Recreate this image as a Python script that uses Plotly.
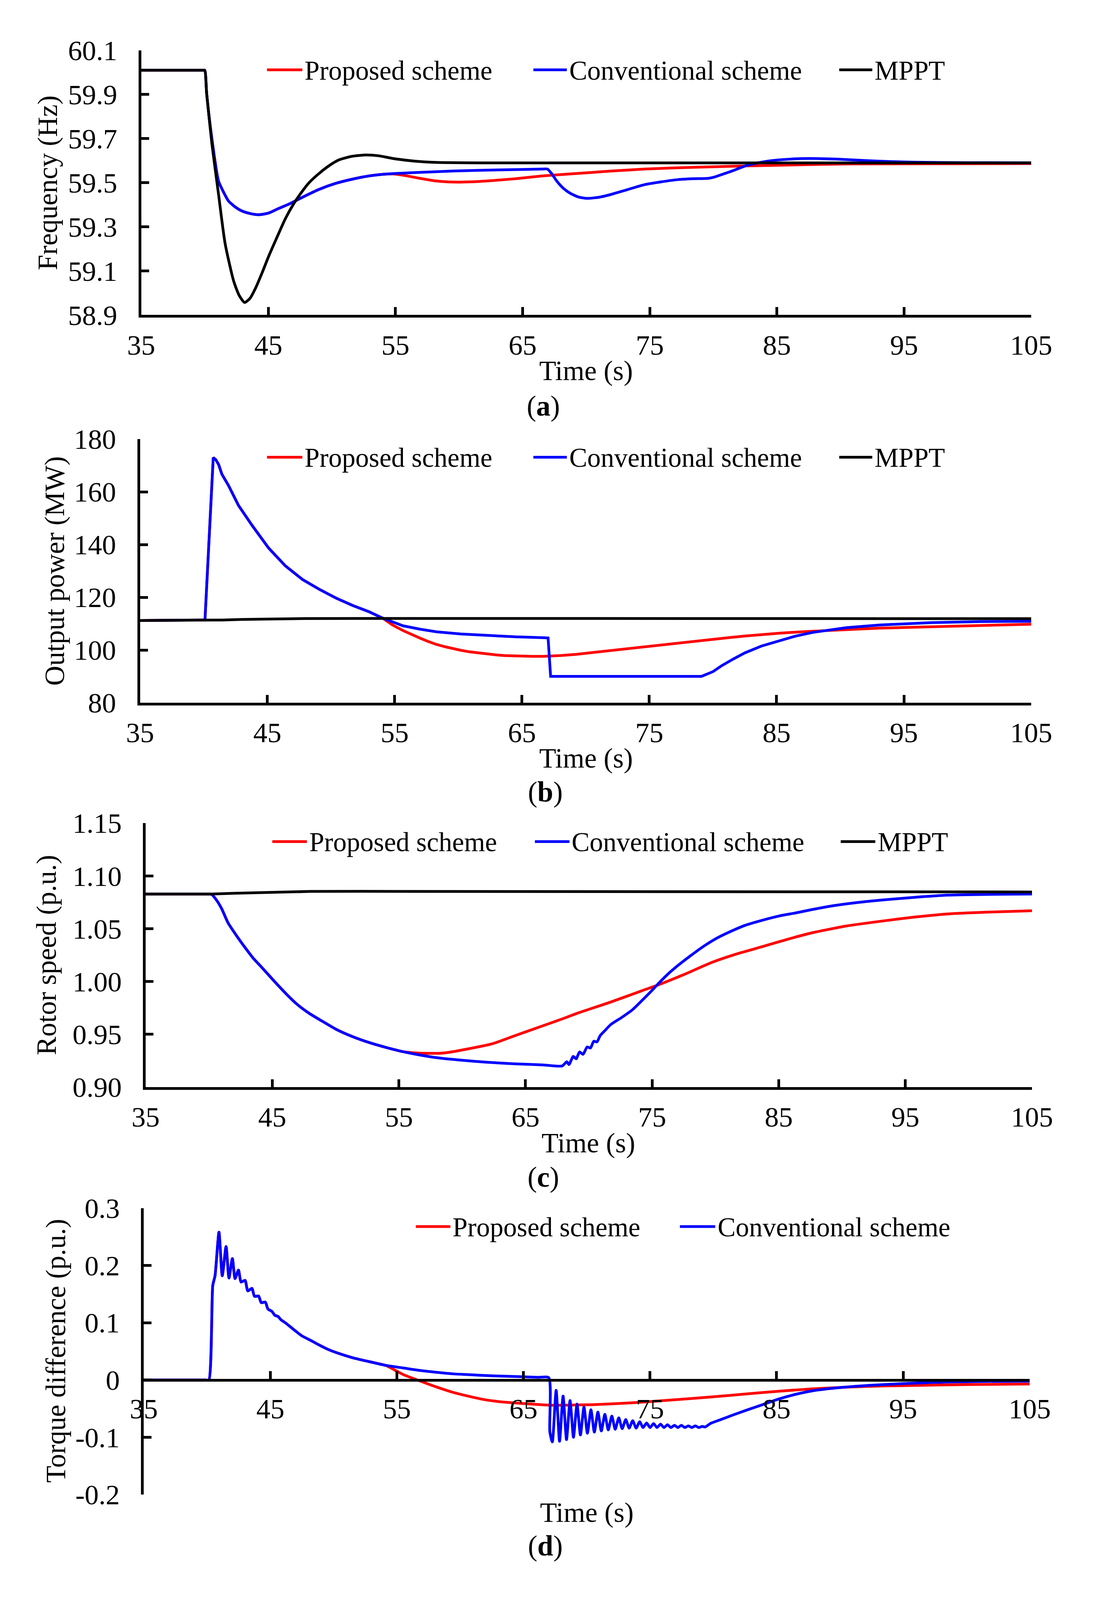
import plotly.graph_objects as go

# nominal canvas of the reference, used to turn pixel positions into paper fractions
W, H = 2807, 4582
FONT = "Liberation Serif"
RED, BLUE, BLACK = "#FF0000", "#0000FF", "#000000"

# ---------------- (a) frequency (Hz) ----------------
a_t_common = [35, 39.85, 40.0, 40.15, 40.56, 41.08, 41.5, 41.87, 42.4, 42.92, 43.6,
              44.24, 45.0, 45.8, 46.7, 47.68, 49.0, 50.3, 51.6, 52.95, 54.0]
a_f_common = [60.01, 60.01, 60.01, 59.905, 59.70, 59.508, 59.455, 59.417, 59.39, 59.372, 59.36,
              59.355, 59.362, 59.383, 59.405, 59.434, 59.47, 59.497, 59.516, 59.531, 59.538]
a_t_conv_tail = [55.06, 57.3, 59.55, 63.0, 66.6, 66.95, 67.3, 67.68, 68.2, 68.75,
                 69.4, 70.07, 71.0, 71.9, 73.2, 74.57, 75.9, 77.2, 78.4, 79.6,
                 80.1, 80.66, 81.6, 82.5, 83.5, 84.4, 86.0, 87.6, 89.7, 91.8,
                 93.8, 95.8, 100.0, 105.0]
a_f_conv_tail = [59.542, 59.548, 59.553, 59.558, 59.562, 59.562, 59.54, 59.508, 59.475, 59.452,
                 59.435, 59.429, 59.434, 59.446, 59.468, 59.491, 59.504, 59.514, 59.518, 59.52,
                 59.526, 59.537, 59.556, 59.576, 59.59, 59.599, 59.607, 59.61, 59.607, 59.601,
                 59.596, 59.593, 59.591, 59.59]
a_t_prop_tail = [54.8, 56.0, 56.9, 58.2, 59.55, 60.9, 62.2, 64.4, 66.6, 69.3,
                 72.0, 74.57, 78.5, 82.5, 86.5, 90.5, 97.0, 105.0]
a_f_prop_tail = [59.54, 59.53, 59.52, 59.508, 59.503, 59.504, 59.508, 59.518, 59.531, 59.542,
                 59.553, 59.562, 59.57, 59.576, 59.581, 59.585, 59.586, 59.587]
a_t_mppt = [35, 39.85, 40.0, 40.15, 40.56, 41.08, 41.6, 42.27, 42.7, 43.13, 43.55,
            43.98, 44.5, 45.04, 45.7, 46.35, 47.0, 47.54, 48.2, 48.99, 49.8,
            50.57, 51.6, 52.69, 53.7, 54.8, 56.5, 58.23, 62.0, 70.0, 80.0,
            90.0, 105.0]
a_f_mppt = [60.01, 60.01, 60.01, 59.905, 59.678, 59.45, 59.225, 59.055, 58.99, 58.957, 58.975,
            59.02, 59.09, 59.168, 59.255, 59.338, 59.405, 59.451, 59.5, 59.542, 59.578,
            59.604, 59.62, 59.626, 59.622, 59.61, 59.598, 59.592, 59.59, 59.59, 59.59,
            59.59, 59.59]

# ---------------- (b) output power (MW) ----------------
b_t_common = [35, 40.0, 40.1, 40.75, 40.95, 41.17, 41.43, 41.95, 42.74, 43.8,
              45.1, 46.4, 47.75, 49.06, 50.4, 51.7, 53.0, 54.06]
b_p_common = [111.2, 111.2, 111.4, 173.0, 172.2, 170.4, 166.7, 162.4, 154.8, 147.3,
              138.7, 132.0, 126.8, 123.1, 119.7, 116.9, 114.5, 112.1]
b_t_conv_tail = [55.65, 57.0, 58.3, 60.2, 62.2, 64.5, 66.66, 67.05, 67.25, 70.0,
                 75.0, 79.1, 80.0, 80.7, 81.6, 82.5, 83.8, 85.2, 86.5, 87.85,
                 89.2, 90.5, 93.1, 97.1, 101.0, 105.0]
b_p_conv_tail = [109.2, 107.9, 106.9, 106.1, 105.5, 105.0, 104.7, 104.6, 90.0, 90.0,
                 90.0, 90.0, 91.8, 94.1, 96.6, 98.9, 101.5, 103.6, 105.3, 106.7,
                 107.7, 108.5, 109.5, 110.4, 110.8, 110.9]
b_t_prop_tail = [54.8, 55.65, 56.3, 57.0, 57.6, 58.3, 59.0, 59.6, 60.2, 60.9,
                 61.5, 62.2, 62.9, 63.6, 64.3, 65.0, 65.8, 66.66, 67.3, 68.0,
                 69.3, 70.6, 71.9, 73.2, 74.6, 75.9, 77.3, 78.6, 79.9, 81.2,
                 82.5, 83.8, 85.2, 87.2, 89.2, 91.1, 93.1, 95.7, 98.4, 101.7, 105.0]
b_p_prop_tail = [109.6, 107.4, 105.9, 104.5, 103.3, 102.1, 101.2, 100.5, 99.9, 99.3,
                 98.9, 98.5, 98.2, 97.9, 97.75, 97.65, 97.6, 97.6, 97.7, 97.9,
                 98.4, 99.1, 99.8, 100.5, 101.2, 102.0, 102.8, 103.4, 104.0, 104.7,
                 105.3, 105.9, 106.4, 107.0, 107.5, 107.9, 108.3, 108.65, 109.0, 109.4, 109.8]
b_t_mppt = [35, 40.0, 41.5, 43.0, 45.0, 48.0, 52.0, 60.0, 70.0, 80.0, 90.0, 105.0]
b_p_mppt = [111.2, 111.2, 111.4, 111.6, 111.8, 111.95, 112.0, 112.0, 112.0, 112.0, 112.0, 111.9]

# ---------------- (c) rotor speed (p.u.) ----------------
c_t_common = [35, 39.9, 40.2, 40.6, 41.0, 41.5, 42.2, 42.86, 43.5, 44.2, 45.1,
              46.0, 46.9, 47.9, 49.0, 50.0, 51.3, 52.7, 54.0, 55.3]
c_w_common = [1.0828, 1.0828, 1.0826, 1.077, 1.069, 1.0557, 1.043, 1.032, 1.022, 1.013, 1.001,
              0.9895, 0.979, 0.970, 0.962, 0.955, 0.948, 0.942, 0.9375, 0.9336]
c_t_conv_tail = [56.6, 58.0, 59.9, 61.9, 64.2, 66.4, 67.9, 68.26, 68.43, 68.77,
                 69.0, 69.27, 69.54, 69.87, 70.13, 70.39, 70.64, 70.9, 71.23, 71.75,
                 72.6, 73.45, 74.2, 75.0, 75.45, 76.2, 77.05, 78.1, 79.2, 80.1,
                 81.0, 82.3, 83.7, 85.0, 86.35, 87.7, 89.0, 91.0, 93.0, 95.7,
                 98.35, 101.5, 105.0]
c_w_conv_tail = [0.9305, 0.9278, 0.9255, 0.9236, 0.922, 0.921, 0.920, 0.924, 0.9213, 0.929,
                 0.9268, 0.9333, 0.931, 0.938, 0.937, 0.9434, 0.9428, 0.9488, 0.953, 0.9594,
                 0.966, 0.9733, 0.982, 0.9917, 0.9975, 1.0065, 1.0153, 1.025, 1.0344, 1.041,
                 1.0463, 1.053, 1.058, 1.062, 1.065, 1.0683, 1.0712, 1.0745, 1.077, 1.0797,
                 1.0818, 1.0825, 1.0828]
c_t_prop_tail = [56.6, 58.2, 59.0, 60.6, 62.4, 64.0, 66.0, 68.0, 69.2, 71.72,
                 74.3, 75.45, 77.5, 79.7, 81.7, 83.7, 85.7, 87.7, 90.3, 93.0,
                 95.7, 98.35, 101.5, 105.0]
c_w_prop_tail = [0.9322, 0.932, 0.933, 0.9365, 0.9411, 0.948, 0.9565, 0.965, 0.9704, 0.9805,
                 0.9917, 0.9966, 1.0065, 1.018, 1.0262, 1.033, 1.040, 1.0463, 1.0525, 1.057,
                 1.061, 1.064, 1.0657, 1.067]
c_t_mppt = [35, 40.2, 42.0, 44.0, 46.0, 48.0, 52.0, 60.0, 80.0, 105.0]
c_w_mppt = [1.0828, 1.0828, 1.0836, 1.0843, 1.0849, 1.0853, 1.0854, 1.0854, 1.0852, 1.0848]

# ---------------- (d) torque difference (p.u.) ----------------
d_t_common = [35, 39.9, 40.14, 40.45, 40.63, 40.94, 41.2, 41.5, 41.73, 42.0, 42.21,
              42.48, 42.69, 43.0, 43.22, 43.54, 43.75, 44.07, 44.28, 44.6, 44.81,
              45.13, 45.35, 45.6, 45.85, 46.2, 46.85, 47.5, 48.2, 48.84, 49.5,
              50.2, 51.5, 52.8, 54.1]
d_q_common = [0, 0, 0, 0.165, 0.182, 0.258, 0.182, 0.233, 0.178, 0.212, 0.177,
              0.192, 0.171, 0.174, 0.1555, 0.160, 0.146, 0.1466, 0.135, 0.136, 0.124,
              0.1197, 0.113, 0.111, 0.105, 0.0996, 0.088, 0.077, 0.069, 0.0613, 0.054,
              0.0479, 0.0389, 0.0321, 0.0256]
d_t_conv_tail = [55.5, 56.8, 58.1, 59.45, 60.8, 62.1, 63.7, 65.3, 66.2, 67.0,
                 67.08, 67.28, 67.58, 67.85, 68.13, 68.4, 68.68, 68.95, 69.23, 69.5,
                 69.78, 70.05, 70.33, 70.6, 70.88, 71.15, 71.43, 71.7, 71.98, 72.25,
                 72.53, 72.8, 73.08, 73.35, 73.63, 73.9, 74.18, 74.45, 74.73, 75.0,
                 75.28, 75.55, 75.83, 76.1, 76.38, 76.65, 76.93, 77.2, 77.48, 77.75,
                 78.03, 78.3, 78.58, 78.85, 79.13, 79.35, 79.8, 80.6, 81.5, 82.7,
                 83.9, 85.2, 86.5, 87.8, 89.2, 91.2, 93.2, 95.8, 98.5, 101.5, 105.0]
d_q_conv_tail = [0.021, 0.0167, 0.0135, 0.0107, 0.0092, 0.0077, 0.0065, 0.0054, 0.0047, 0.004,
                 -0.09, -0.108, -0.018, -0.107, -0.028, -0.104, -0.036, -0.100, -0.042, -0.096,
                 -0.047, -0.093, -0.052, -0.091, -0.056, -0.089, -0.060, -0.087, -0.063, -0.086,
                 -0.066, -0.085, -0.069, -0.084, -0.071, -0.084, -0.073, -0.083, -0.075, -0.083,
                 -0.076, -0.083, -0.077, -0.083, -0.078, -0.083, -0.079, -0.083, -0.079, -0.083,
                 -0.080, -0.083, -0.080, -0.083, -0.081, -0.082, -0.0756, -0.069, -0.0615, -0.052,
                 -0.043, -0.033, -0.025, -0.019, -0.015, -0.011, -0.0083, -0.0055, -0.0036, -0.0025, -0.002]
d_t_prop_tail = [55.5, 56.8, 58.1, 59.45, 60.8, 62.1, 63.7, 65.3, 67.15, 69.35,
                 70.5, 72.5, 74.5, 77.2, 79.9, 82.5, 85.2, 87.8, 90.5, 93.2,
                 95.85, 100.0, 105.0]
d_q_prop_tail = [0.0095, -0.0015, -0.012, -0.0217, -0.029, -0.035, -0.039, -0.0415, -0.044, -0.0435,
                 -0.043, -0.041, -0.0385, -0.034, -0.0295, -0.0245, -0.0195, -0.0155, -0.0125, -0.0105,
                 -0.0095, -0.008, -0.007]

time_ticks = [35, 45, 55, 65, 75, 85, 95, 105]
a_ticks = [58.9, 59.1, 59.3, 59.5, 59.7, 59.9, 60.1]
b_ticks = [80, 100, 120, 140, 160, 180]
c_ticks = [0.90, 0.95, 1.00, 1.05, 1.10, 1.15]
d_ticks = [-0.2, -0.1, 0, 0.1, 0.2, 0.3]
d_tick_text = ["-0.2", "-0.1", "0", "0.1", "0.2", "0.3"]

names = ["Proposed scheme", "Conventional scheme", "MPPT"]


def px(x):
    return x / W


def py(y):
    return 1 - y / H


fig = go.Figure()

panels = [
    ("", [(a_t_common + a_t_prop_tail, a_f_common + a_f_prop_tail, RED, "spline"),
          (a_t_common + a_t_conv_tail, a_f_common + a_f_conv_tail, BLUE, "spline"),
          (a_t_mppt, a_f_mppt, BLACK, "spline")]),
    ("2", [(b_t_common + b_t_prop_tail, b_p_common + b_p_prop_tail, RED, "linear"),
           (b_t_common + b_t_conv_tail, b_p_common + b_p_conv_tail, BLUE, "linear"),
           (b_t_mppt, b_p_mppt, BLACK, "linear")]),
    ("3", [(c_t_common + c_t_prop_tail, c_w_common + c_w_prop_tail, RED, "spline"),
           (c_t_common + c_t_conv_tail, c_w_common + c_w_conv_tail, BLUE, "spline"),
           (c_t_mppt, c_w_mppt, BLACK, "linear")]),
    ("4", [(d_t_common + d_t_prop_tail, d_q_common + d_q_prop_tail, RED, "spline"),
           (d_t_common + d_t_conv_tail, d_q_common + d_q_conv_tail, BLUE, "spline")]),
]

for suffix, series in panels:
    for i, (t, v, col, shape) in enumerate(series):
        fig.add_trace(go.Scatter(x=t, y=v, mode="lines", name=names[i],
                                 line=dict(color=col, width=7, shape=shape, smoothing=0.6),
                                 xaxis="x" + suffix, yaxis="y" + suffix,
                                 showlegend=False))

tick_font = dict(family=FONT, size=72, color="black")
common_ax = dict(showline=True, linecolor="black", linewidth=7, ticks="inside",
                 ticklen=20, tickwidth=7, tickcolor="black", showgrid=False,
                 zeroline=False, tickfont=tick_font)

# plot-area pixel boxes: (left, right, top, bottom)
boxes = [(330, 2699, 94, 870), (327, 2699, 1234, 2007),
         (342, 2701, 2360, 3134), (337, 2695, 3489, 4329)]
yranges = [[58.9, 60.1], [80, 180], [0.90, 1.15], [-0.2, 0.3]]
ytickvals = [a_ticks, b_ticks, c_ticks, d_ticks]
yticktext = [["%.1f" % v for v in a_ticks], [str(v) for v in b_ticks],
             ["%.2f" % v for v in c_ticks], d_tick_text]

layout = dict(autosize=True, margin=dict(l=0, r=0, t=0, b=0),
              paper_bgcolor="white", plot_bgcolor="white",
              font=dict(family=FONT, color="black"))
for k, (l, r, t, b) in enumerate(boxes):
    s = "" if k == 0 else str(k + 1)
    xa = dict(common_ax, domain=[px(l), px(r)], range=[35, 105],
              tickvals=time_ticks, ticklabelstandoff=8, anchor="y" + s)
    if k == 3:
        # time axis crosses at zero torque difference
        xa.update(anchor="free", position=py(3993))
    ya = dict(common_ax, domain=[py(b), py(t)], range=yranges[k],
              tickvals=ytickvals[k], ticktext=yticktext[k],
              ticklabelstandoff=40, anchor="x" + s)
    layout["xaxis" + s] = xa
    layout["yaxis" + s] = ya
fig.update_layout(**layout)

ann = []
shapes = []


def label(text, x, y, size, **kw):
    d = dict(text=text, x=px(x), y=py(y), xref="paper", yref="paper",
             showarrow=False, xanchor="center", yanchor="middle",
             font=dict(family=FONT, size=size, color="black"))
    d.update(kw)
    ann.append(d)


# y-axis titles
for txt, x, y in [("Frequency (Hz)", 82, 482), ("Output power (MW)", 100, 1620),
                  ("Rotor speed (p.u.)", 78, 2747), ("Torque difference (p.u.)", 104, 3907)]:
    label(txt, x, y, 71, textangle=-90)
# x-axis titles
for x, y in [(1514, 1034), (1514, 2170), (1520, 3298), (1516, 4382)]:
    label("Time (s)", x, y, 71)
# panel captions
for lab, x, y in [("a", 1400, 1137), ("b", 1406, 2269), ("c", 1400, 3398), ("d", 1406, 4480)]:
    label("(<b>%s</b>)" % lab, x, y, 73)

# legends: (row y, [(line x0, line x1, color, label)])
legend_rows = [
    (151, [(665, 759, RED, names[0]), (1374, 1463, BLUE, names[1]), (2188, 2276, BLACK, names[2])]),
    (1287, [(665, 759, RED, names[0]), (1374, 1463, BLUE, names[1]), (2188, 2276, BLACK, names[2])]),
    (2414, [(679, 771, RED, names[0]), (1378, 1470, BLUE, names[1]), (2192, 2284, BLACK, names[2])]),
    (3543, [(1061, 1153, RED, names[0]), (1764, 1858, BLUE, names[1])]),
]
for y, items in legend_rows:
    for x0, x1, col, lab in items:
        shapes.append(dict(type="line", xref="paper", yref="paper",
                           x0=px(x0), x1=px(x1), y0=py(y), y1=py(y),
                           line=dict(color=col, width=7)))
        label(lab, x1 + 4, y + 2, 69, xanchor="left")

fig.update_layout(annotations=ann, shapes=shapes)
fig.write_html("out.html")
